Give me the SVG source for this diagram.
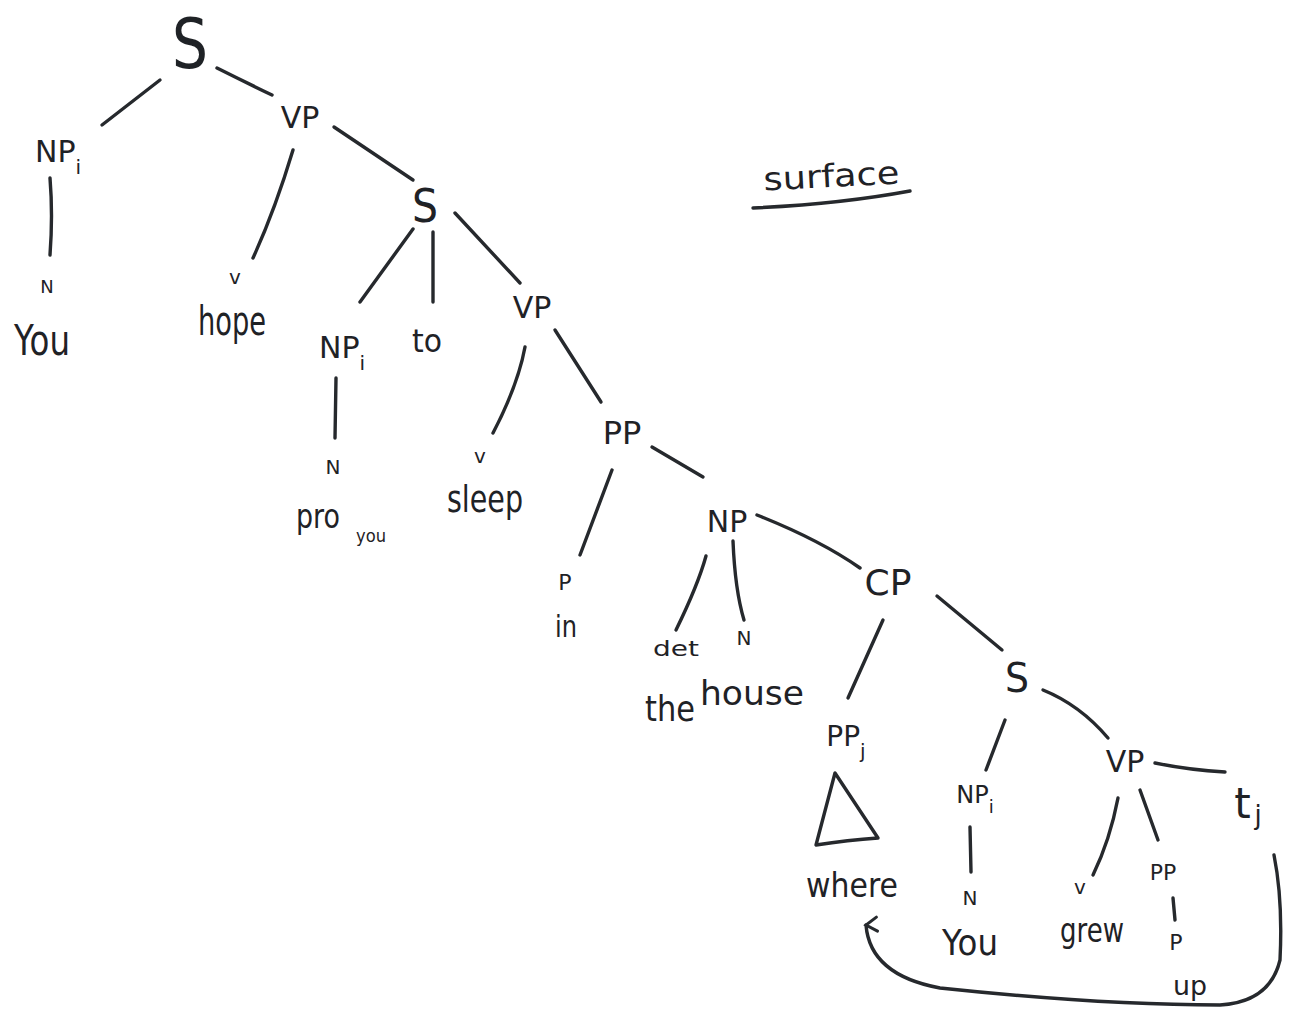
<svg xmlns="http://www.w3.org/2000/svg" width="1289" height="1022" viewBox="0 0 1289 1022">
<defs>
<style>
text{font-family:"DejaVu Sans","Liberation Sans",sans-serif;fill:#1f2226;text-anchor:middle}
.e{stroke:#26292d;stroke-width:3.4;fill:none;stroke-linecap:round;stroke-linejoin:round}
</style>
<marker id="ah" viewBox="0 0 20 20" refX="10" refY="3" markerWidth="20" markerHeight="20" markerUnits="userSpaceOnUse" orient="auto">
<path d="M3,14 L10,3 L17,14" fill="none" stroke="#26292d" stroke-width="3" stroke-linecap="round"/>
</marker>
</defs>
<rect width="1289" height="1022" fill="#ffffff"/>
<g id="connectors">
<path class="e" d="M160,80 L102,125"/>
<path class="e" d="M217,68 Q245,82 272,95"/>
<path class="e" d="M50,178 Q53,215 50,255"/>
<path class="e" d="M293,150 Q275,210 253,258"/>
<path class="e" d="M334,127 L413,180"/>
<path class="e" d="M413,229 L360,302"/>
<path class="e" d="M433,232 L433,302"/>
<path class="e" d="M455,213 L520,283"/>
<path class="e" d="M336,378 L335,438"/>
<path class="e" d="M525,347 Q518,385 493,433"/>
<path class="e" d="M555,330 L601,402"/>
<path class="e" d="M612,470 L580,555"/>
<path class="e" d="M652,447 L703,477"/>
<path class="e" d="M706,556 Q698,585 676,630"/>
<path class="e" d="M733,541 Q735,590 744,620"/>
<path class="e" d="M757,515 Q820,540 860,568"/>
<path class="e" d="M883,620 L848,698"/>
<path class="e" d="M937,596 L1002,650"/>
<path class="e" d="M1005,720 L986,770"/>
<path class="e" d="M1043,690 Q1080,705 1108,738"/>
<path class="e" d="M970,827 L971,872"/>
<path class="e" d="M1118,798 Q1110,840 1093,875"/>
<path class="e" d="M1140,790 L1158,840"/>
<path class="e" d="M1155,763 Q1190,770 1225,772"/>
<path class="e" d="M1173,898 L1175,920"/>
<path class="e" d="M1274,855 Q1283,900 1280,960 Q1270,1002 1220,1005 Q1100,1005 940,988 Q870,975 866,925" marker-end="url(#ah)"/>
<path class="e" d="M753,208 Q840,204 910,191"/>
</g>
<g id="n-S1"><text x="190" y="68" font-size="70" textLength="36" lengthAdjust="spacingAndGlyphs">S</text></g>
<g id="n-NP1"><text x="58" y="162" font-size="30">NP<tspan font-size="20" dy="12">i</tspan></text></g>
<g id="n-VP1"><text x="300" y="128" font-size="30">VP</text></g>
<g id="n-N1"><text x="47" y="293" font-size="18">N</text></g>
<g id="n-You1"><text x="42" y="355" font-size="42" textLength="56" lengthAdjust="spacingAndGlyphs">You</text></g>
<g id="n-V1"><text x="235" y="284" font-size="20">v</text></g>
<g id="n-hope"><text x="232" y="335" font-size="40" textLength="68" lengthAdjust="spacingAndGlyphs">hope</text></g>
<g id="n-S2"><text x="425" y="222" font-size="46" textLength="26" lengthAdjust="spacingAndGlyphs">S</text></g>
<g id="n-NP2"><text x="342" y="358" font-size="30">NP<tspan font-size="20" dy="12">i</tspan></text></g>
<g id="n-to"><text x="427" y="352" font-size="32" textLength="30" lengthAdjust="spacingAndGlyphs">to</text></g>
<g id="n-VP2"><text x="532" y="318" font-size="30">VP</text></g>
<g id="n-N2"><text x="333" y="474" font-size="20">N</text></g>
<g id="n-pro"><text x="318" y="528" font-size="34" textLength="44" lengthAdjust="spacingAndGlyphs">pro</text><text x="371" y="542" font-size="18" textLength="30" lengthAdjust="spacingAndGlyphs">you</text></g>
<g id="n-V2"><text x="480" y="463" font-size="20">v</text></g>
<g id="n-sleep"><text x="485" y="512" font-size="38" textLength="76" lengthAdjust="spacingAndGlyphs">sleep</text></g>
<g id="n-PP1"><text x="622" y="444" font-size="32">PP</text></g>
<g id="n-P1"><text x="565" y="590" font-size="22">P</text></g>
<g id="n-in"><text x="566" y="637" font-size="30" textLength="22" lengthAdjust="spacingAndGlyphs">in</text></g>
<g id="n-NP3"><text x="727" y="532" font-size="30">NP</text></g>
<g id="n-det"><text x="676" y="656" font-size="22" textLength="46" lengthAdjust="spacingAndGlyphs">det</text></g>
<g id="n-N3"><text x="744" y="645" font-size="20">N</text></g>
<g id="n-the"><text x="670" y="721" font-size="36" textLength="50" lengthAdjust="spacingAndGlyphs">the</text></g>
<g id="n-house"><text x="752" y="705" font-size="34" textLength="104" lengthAdjust="spacingAndGlyphs">house</text></g>
<g id="n-CP"><text x="888" y="595" font-size="36">CP</text></g>
<g id="n-PPj"><text x="846" y="746" font-size="28">PP<tspan font-size="20" dy="12">j</tspan></text>
<path class="e" d="M835,773 L816,845 Q848,840 878,838 Z"/></g>
<g id="n-where"><text x="852" y="897" font-size="34" textLength="92" lengthAdjust="spacingAndGlyphs">where</text></g>
<g id="n-S3"><text x="1017" y="692" font-size="40" textLength="24" lengthAdjust="spacingAndGlyphs">S</text></g>
<g id="n-NP4"><text x="975" y="803" font-size="24">NP<tspan font-size="18" dy="10">i</tspan></text></g>
<g id="n-VP3"><text x="1125" y="772" font-size="30">VP</text></g>
<g id="n-tj"><text x="1248" y="818" font-size="42">t<tspan font-size="26" dx="4" dy="6">j</tspan></text></g>
<g id="n-N4"><text x="970" y="905" font-size="20">N</text></g>
<g id="n-You2"><text x="970" y="955" font-size="36" textLength="56" lengthAdjust="spacingAndGlyphs">You</text></g>
<g id="n-V3"><text x="1080" y="894" font-size="20">v</text></g>
<g id="n-grew"><text x="1092" y="942" font-size="34" textLength="64" lengthAdjust="spacingAndGlyphs">grew</text></g>
<g id="n-PP2"><text x="1163" y="880" font-size="22">PP</text></g>
<g id="n-P2"><text x="1176" y="950" font-size="22">P</text></g>
<g id="n-up"><text x="1190" y="995" font-size="26" textLength="34" lengthAdjust="spacingAndGlyphs">up</text></g>
<g id="n-surface"><text x="832" y="187" font-size="32" textLength="136" lengthAdjust="spacingAndGlyphs" transform="rotate(-3 832 187)">surface</text></g>
</svg>
